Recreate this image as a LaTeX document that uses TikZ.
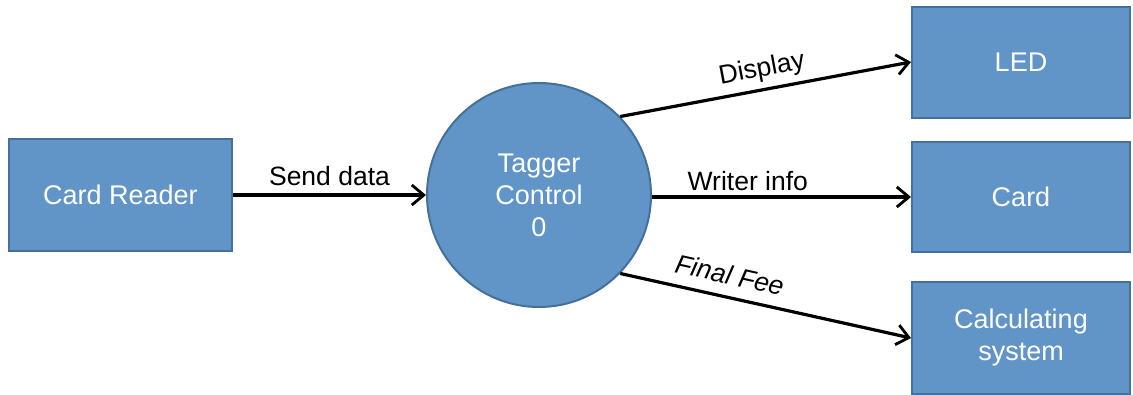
\documentclass[tikz,border=0pt]{standalone}
\usepackage{fontspec}
\setmainfont{Liberation Sans}
\usetikzlibrary{arrows.meta}
\definecolor{boxfill}{HTML}{6195C7}
\definecolor{boxline}{HTML}{46709C}
\tikzset{
  blockbox/.style={draw=boxline, line width=2pt, fill=boxfill, text=white, inner sep=0pt, align=center, font=\fontsize{27}{32}\selectfont},
  flow/.style={line width=3.2pt, -{Straight Barb[length=12pt, width=20pt, line width=2.8pt]}},
  lbl/.style={font=\fontsize{26.5}{30}\selectfont, text=black, inner sep=2pt}
}
\begin{document}
\begin{tikzpicture}[x=1pt,y=-1pt]
\useasboundingbox (0,0) rectangle (1133,394);
\node[blockbox, minimum width=223pt, minimum height=112pt] (cr) at (120.5,195) {Card Reader};
\node[blockbox, circle, minimum size=224pt] (tc) at (539,195) {Tagger\\Control\\0};
\node[blockbox, minimum width=218pt, minimum height=111pt] (led) at (1021,62) {LED};
\node[blockbox, minimum width=218pt, minimum height=110pt] (card) at (1021,197) {Card};
\node[blockbox, minimum width=218pt, minimum height=112pt] (calc) at (1021,338) {Calculating\\system};
\draw[flow] (cr.east) -- node[lbl, above, pos=0.5, yshift=6pt] {Send data} (tc.west);
\draw[flow] (tc.44) -- node[lbl, above, sloped, pos=0.5, yshift=4pt] {Display} (led.west);
\draw[flow] (tc.east |- card.west) -- node[lbl, above, pos=0.37, yshift=3pt] {Writer info} (card.west);
\draw[flow] (tc.-44) -- node[lbl, above, sloped, pos=0.36, yshift=9pt, font=\fontsize{26.5}{30}\selectfont\itshape] {Final Fee} (calc.west);
\end{tikzpicture}
\end{document}
